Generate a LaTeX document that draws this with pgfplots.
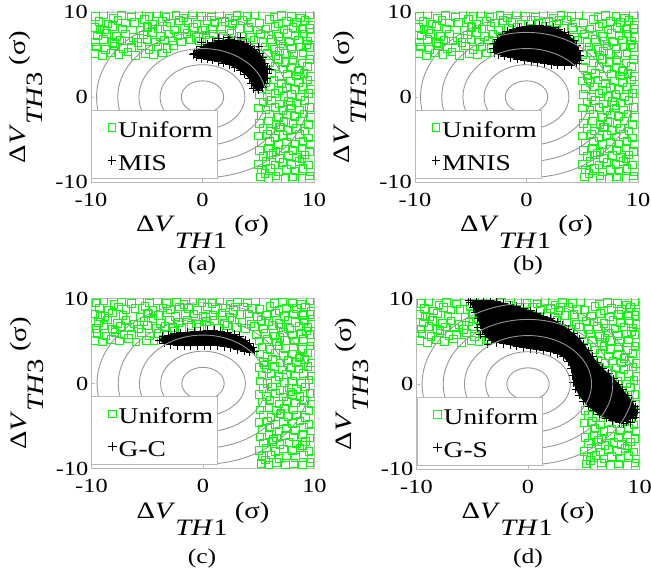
\documentclass[border=0pt]{standalone}
\usepackage{fontspec}
\setmainfont{Liberation Serif}[FakeStretch=1.22]
\usepackage{pgfplots}
\pgfplotsset{compat=1.18}
\usepackage{pgfplotstable}

\definecolor{ugreen}{RGB}{0,255,0}
\definecolor{cgray}{RGB}{150,150,150}
\definecolor{fgray}{RGB}{185,185,185}

\pgfplotstableread{
x y
-9.6 9.5
-8.9 9.7
-8.0 9.3
-7.3 9.6
-6.4 9.4
-5.7 9.7
-4.8 9.5
-4.1 9.8
-3.3 9.4
-2.4 9.6
-1.7 9.3
-0.9 9.7
-0.1 9.5
0.8 9.4
1.5 9.7
2.4 9.3
3.1 9.6
4.0 9.5
4.7 9.7
6.4 9.4
7.1 9.6
8.0 9.5
8.8 9.3
9.6 9.7
-9.3 8.9
-8.5 8.6
-7.6 9.0
-6.9 8.7
-6.1 8.8
-5.2 9.1
-4.5 8.6
-3.6 8.9
-2.9 8.7
-2.1 9.0
-1.3 8.8
-0.5 8.6
0.4 9.0
1.1 8.7
2.0 8.9
2.7 8.6
3.6 9.0
4.4 8.8
5.1 8.7
6.0 9.1
6.8 8.6
7.5 8.9
8.4 8.8
9.2 9.0
9.7 8.5
-9.7 8.2
-8.8 7.9
-8.1 8.3
-7.2 8.0
-5.6 7.8
-4.9 8.2
-4.0 8.0
-3.2 8.3
-2.5 7.9
-1.6 8.1
-0.8 8.2
0.0 7.9
0.9 8.0
1.7 8.3
2.4 7.8
3.3 8.1
4.1 8.2
4.9 7.9
5.7 8.0
6.5 8.3
7.3 7.9
8.1 8.2
8.9 8.0
9.6 8.1
-9.4 7.2
-8.6 7.5
-7.7 7.1
-6.9 7.4
-6.2 7.0
-5.3 7.3
-4.5 7.6
-3.8 7.1
-3.0 7.4
-2.2 7.2
-1.4 7.5
-0.6 7.0
0.3 7.3
1.0 7.4
1.9 7.1
2.6 7.5
3.5 7.2
4.3 7.0
5.2 7.4
5.9 7.3
6.8 7.1
7.6 7.5
8.3 7.2
9.1 7.4
9.7 7.0
-9.6 6.5
-8.9 6.8
-8.1 6.4
-7.4 6.7
-6.6 6.6
-5.8 6.4
-5.0 6.8
-4.2 6.5
-3.4 6.7
-2.7 6.6
-1.9 6.5
-1.1 6.8
-0.3 6.6
0.6 6.7
1.4 6.5
2.2 6.8
3.0 6.6
3.8 6.5
4.6 6.7
5.4 6.4
6.2 6.8
7.0 6.6
7.8 6.5
8.6 6.7
9.4 6.6
-9.5 5.9
-8.7 5.6
-7.9 6.0
-7.1 5.7
-6.4 5.8
-5.5 6.0
-4.8 5.6
-4.0 5.9
-3.2 5.7
-2.6 6.1
4.8 5.8
5.6 5.9
6.4 5.6
7.2 6.0
8.0 5.7
8.8 5.9
9.6 5.8
-9.7 5.1
-9.0 4.9
-8.2 5.2
-7.5 5.0
-6.7 5.3
-6.0 4.9
-5.1 5.1
-4.4 5.0
-3.6 5.2
5.0 5.0
5.8 5.2
6.6 4.9
7.4 5.1
8.2 5.0
9.0 5.2
9.7 4.9
5.3 4.3
6.0 4.0
6.8 4.4
7.4 4.1
8.1 4.3
8.9 4.0
9.6 4.4
5.1 3.5
5.8 3.2
6.5 3.6
7.2 3.3
8.0 3.5
8.7 3.2
9.4 3.6
5.4 2.5
6.2 2.8
6.9 2.4
7.6 2.7
8.4 2.5
9.1 2.8
9.7 2.4
5.0 1.9
5.7 1.7
6.4 2.0
7.1 1.6
7.9 1.9
8.6 1.7
9.4 2.0
5.3 1.0
6.1 1.2
6.8 0.8
7.5 1.1
8.3 0.9
9.0 1.2
9.7 0.9
5.1 0.3
5.8 0.0
6.5 0.4
7.3 0.1
8.0 0.3
8.8 0.0
9.5 0.4
5.4 -0.6
6.2 -0.4
6.9 -0.8
7.7 -0.5
8.4 -0.7
9.2 -0.4
5.0 -1.3
5.7 -1.5
6.5 -1.2
7.2 -1.6
8.0 -1.3
8.7 -1.5
9.6 -1.2
5.3 -2.2
6.0 -2.0
6.8 -2.4
7.5 -2.1
8.3 -2.3
9.1 -2.0
9.7 -2.4
5.1 -3.1
5.9 -2.8
6.6 -3.2
7.3 -2.9
8.1 -3.1
8.8 -2.8
9.5 -3.2
5.4 -3.7
6.1 -4.0
6.9 -3.6
7.6 -3.9
8.4 -3.7
9.2 -4.0
5.0 -4.6
5.8 -4.4
6.5 -4.8
7.2 -4.5
8.0 -4.7
8.7 -4.4
9.5 -4.8
5.3 -5.4
6.0 -5.2
6.8 -5.6
7.5 -5.3
8.3 -5.5
9.0 -5.2
9.7 -5.6
5.1 -6.3
5.9 -6.0
6.6 -6.4
7.4 -6.1
8.1 -6.3
8.9 -6.0
9.6 -6.4
5.4 -7.0
6.2 -6.8
6.9 -7.2
7.7 -6.9
8.4 -7.1
9.2 -6.8
5.0 -7.9
5.7 -7.6
6.5 -8.0
7.2 -7.7
8.0 -7.9
8.7 -7.6
9.5 -8.0
5.3 -8.6
6.1 -8.4
6.8 -8.8
7.5 -8.5
8.3 -8.7
9.0 -8.4
9.7 -8.8
5.2 -9.4
5.9 -9.6
6.6 -9.3
7.4 -9.6
8.1 -9.4
8.9 -9.6
9.6 -9.3
-7.9 6.3
-5.0 8.3
2.9 9.0
6.9 5.4
7.9 -1.0
6.3 -6.6
8.6 3.0
9.3 6.2
-9.2 7.9
0.2 7.8
5.6 -9.0
7.0 -3.5
8.9 -7.3
5.5 2.2
9.0 8.1
}\uniform

\pgfplotstableread{
x y
-0.8 5.0
-0.5 5.5
-0.1 5.9
0.4 6.2
0.9 6.4
1.4 6.6
1.9 6.7
2.4 6.75
2.9 6.7
3.4 6.55
3.9 6.3
4.3 6.0
4.7 5.6
5.1 5.1
5.4 4.6
5.6 4.0
5.8 3.4
5.85 2.8
5.8 2.2
5.6 1.6
5.4 1.1
5.0 0.8
4.6 1.0
4.4 1.6
4.2 2.2
3.8 2.7
3.4 3.1
2.9 3.5
2.4 3.8
1.9 4.0
1.4 4.2
0.9 4.35
0.4 4.45
-0.1 4.55
-0.5 4.7
}\clA

\pgfplotstableread{
x y
-0.1 6.45
-0.7 5.1
1.4 6.9
3.4 7.0
5.0 5.9
6.0 3.2
5.3 1.2
2.3 6.95
}\stA

\pgfplotstableread{
x y
-2.9 5.2
-3.0 5.7
-2.9 6.3
-2.6 6.8
-2.2 7.3
-1.7 7.7
-1.2 8.0
-0.6 8.2
0.0 8.35
0.6 8.45
1.2 8.4
1.8 8.3
2.4 8.15
2.9 7.9
3.4 7.6
3.8 7.2
4.2 6.7
4.5 6.1
4.7 5.5
4.8 4.9
4.75 4.3
4.5 3.9
4.0 3.75
3.4 3.7
2.8 3.75
2.2 3.85
1.6 3.95
1.0 4.05
0.4 4.15
-0.2 4.3
-0.8 4.45
-1.4 4.65
-2.0 4.8
-2.5 5.0
}\clB

\pgfplotstableread{
x y
-3.9 5.1
-3.6 5.5
-3.1 5.7
-2.6 5.85
-2.0 5.95
-1.4 6.05
-0.8 6.1
-0.2 6.15
0.4 6.2
1.0 6.2
1.6 6.1
2.2 5.95
2.8 5.75
3.3 5.5
3.8 5.1
4.2 4.7
4.5 4.2
4.6 3.8
4.2 3.7
3.7 3.8
3.1 4.0
2.5 4.2
1.9 4.35
1.3 4.45
0.7 4.5
0.1 4.5
-0.5 4.45
-1.1 4.45
-1.7 4.45
-2.3 4.5
-2.9 4.6
-3.5 4.75
}\clC

\pgfplotstableread{
x y
-5.2 9.6
-4.6 9.8
-4.0 9.85
-3.4 9.8
-2.8 9.7
-2.2 9.5
-1.6 9.3
-1.0 9.1
-0.4 8.85
0.2 8.6
0.8 8.3
1.4 8.0
2.0 7.7
2.6 7.3
3.1 6.9
3.6 6.4
4.1 5.9
4.6 5.3
5.0 4.7
5.4 3.9
5.8 3.2
6.2 2.5
6.7 1.8
7.2 1.2
7.7 0.6
8.1 0.0
8.5 -0.7
8.9 -1.4
9.3 -2.0
9.6 -2.7
9.7 -3.4
9.4 -4.0
8.8 -4.4
8.2 -4.5
7.6 -4.3
7.0 -4.0
6.4 -3.6
5.9 -3.1
5.4 -2.6
5.0 -2.0
4.6 -1.3
4.3 -0.6
4.1 0.2
4.0 1.0
3.9 1.8
3.6 2.6
3.2 3.2
2.6 3.6
2.0 3.8
1.4 3.95
0.8 4.05
0.2 4.15
-0.4 4.3
-1.0 4.45
-1.6 4.6
-2.2 4.75
-2.8 4.9
-3.3 5.1
-3.8 5.6
-4.1 6.3
-4.3 7.0
-4.5 7.7
-4.7 8.4
-4.9 9.0
}\clD

\pgfplotstableread{
x y
-5.3 9.8
-4.3 5.8
-4.5 6.6
-3.6 4.7
8.3 -3.2
8.6 -4.7
9.2 -4.5
9.6 -3.9
9.0 -3.3
9.8 -3.0
}\stD

\newcommand{\lab}[1]{Δ\textit{V}\raisebox{-0.72em}{\textit{TH}#1} (σ)}

\pgfplotsset{
  panel/.style={
    width=223pt, height=170pt, scale only axis, anchor=south west,
    xmin=-10, xmax=10, ymin=-10, ymax=10,
    clip marker paths=true,
    xtick={-10,0,10}, ytick={-10,0,10},
    axis line style={fgray}, tick style={fgray}, tick align=inside,
    major tick length=3pt,
    /pgf/number format/assume math mode=true,
    ticklabel style={font=\fontsize{20}{24}\selectfont},
    xticklabel style={inner sep=0pt, anchor=north, yshift=-11pt},
    yticklabel style={inner sep=0pt, anchor=east, xshift=-3pt},
    xlabel={\lab{1}}, ylabel={\lab{3}},
    label style={font=\fontsize{23.5}{28}\selectfont},
    xlabel style={at={(axis description cs:0.5,-0.294)}, anchor=base},
    ylabel style={at={(axis description cs:-0.2915,0.5)}, anchor=base},
    legend style={at={(0,0.024)}, anchor=south west, draw=fgray, fill=white,
      inner xsep=2pt, inner ysep=5.5pt, row sep=9pt, column sep=0pt,
      font=\fontsize{22.5}{27}\selectfont,
      nodes={inner sep=2pt, text height=20pt, text depth=0pt}},
    legend cell align=left,
    legend image code/.code={\path[draw=none,fill=none] (0pt,0pt) -- (22pt,0pt); \draw[##1] plot coordinates {(18.7pt,0pt)};},
  },
  green/.style={only marks, mark=square, mark size=3.8pt, ugreen, mark options={line width=0.8pt}},
  blob/.style={forget plot, fill=black, draw=black, line width=0.8pt},
  pl/.style={only marks, mark=+, mark size=4.3pt, black, mark options={line width=0.9pt}},
}

\begin{document}
\begin{tikzpicture}[x=1pt,y=1pt]
\useasboundingbox (0,0) rectangle (651,570);

\begin{axis}[panel, at={(91pt,388pt)}]
\addplot[green] table {\uniform};
\addplot[blob] table {\clA} -- cycle;
\addplot[pl] table {\clA};
\addplot[pl, forget plot] table {\stA};
\pgfplotsinvokeforeach{1.9,3.8,5.7,7.6,9.5}{\draw[cgray, line width=0.9pt] (axis cs:0,0) ellipse [x radius=#1, y radius=#1];}
\legend{Uniform, MIS}
\end{axis}

\begin{axis}[panel, at={(415pt,388pt)}]
\addplot[green] table {\uniform};
\addplot[blob] table {\clB} -- cycle;
\addplot[pl] table {\clB};
\pgfplotsinvokeforeach{1.9,3.8,5.7,7.6,9.5}{\draw[cgray, line width=0.9pt] (axis cs:0,0) ellipse [x radius=#1, y radius=#1];}
\legend{Uniform, MNIS}
\end{axis}

\begin{axis}[panel, at={(91.5pt,101.5pt)}]
\addplot[green] table {\uniform};
\addplot[blob] table {\clC} -- cycle;
\addplot[pl] table {\clC};
\pgfplotsinvokeforeach{1.9,3.8,5.7,7.6,9.5}{\draw[cgray, line width=0.9pt] (axis cs:0,0) ellipse [x radius=#1, y radius=#1];}
\legend{Uniform, G-C}
\end{axis}

\begin{axis}[panel, at={(416.5pt,101pt)}]
\addplot[green] table {\uniform};
\addplot[blob] table {\clD} -- cycle;
\addplot[pl] table {\clD};
\addplot[pl, forget plot] table {\stD};
\pgfplotsinvokeforeach{1.9,3.8,5.7,7.6,9.5}{\draw[cgray, line width=0.9pt] (axis cs:0,0) ellipse [x radius=#1, y radius=#1];}
\legend{Uniform, G-S}
\end{axis}

\node[font=\fontsize{21}{24}\selectfont] at (202,305) {(a)};
\node[font=\fontsize{21}{24}\selectfont] at (528,305) {(b)};
\node[font=\fontsize{21}{24}\selectfont] at (202,12) {(c)};
\node[font=\fontsize{21}{24}\selectfont] at (528,12) {(d)};
\end{tikzpicture}
\end{document}
